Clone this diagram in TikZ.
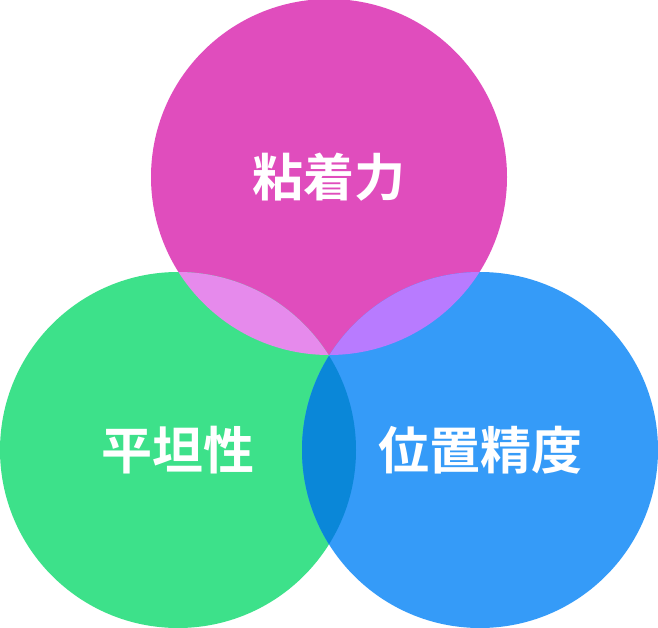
\documentclass[tikz,border=0pt]{standalone}
\usepackage{fontspec}
\newfontfamily\cjkfont{Noto Sans CJK JP Bold}
\usetikzlibrary{positioning}
\definecolor{clrtop}{HTML}{E04DBD}
\definecolor{clrleft}{HTML}{3DE18A}
\definecolor{clrright}{HTML}{359BF8}
\definecolor{clrtopleft}{HTML}{E68AEC}
\definecolor{clrtopright}{HTML}{B87BFF}
\definecolor{clrleftright}{HTML}{0A87D8}

\begin{document}
\begin{tikzpicture}[
    x=1pt, y=-1pt,
    disc/.style={circle, minimum size=356pt, inner sep=0pt},
    caption/.style={text=white, inner sep=0pt, font=\cjkfont\fontsize{51}{51}\selectfont},
]
\useasboundingbox (0,0) rectangle (658,628);
\node[disc, fill=clrtop] (n_top) at (329,177) {};
\node[disc, fill=clrleft] (n_left) at (178,450) {};
\node[disc, fill=clrright] (n_right) at (480,450) {};
% overlaps
\begin{scope}
  \clip (n_top.center) circle (178pt);
  \fill[clrtopleft] (n_left.center) circle (178pt);
  \fill[clrtopright] (n_right.center) circle (178pt);
\end{scope}
\begin{scope}
  \clip (n_left.center) circle (178pt);
  \fill[clrleftright] (n_right.center) circle (178pt);
\end{scope}
\node[caption] (n_top_label) at (n_top) {粘着力};
\node[caption] (n_left_label) at (n_left) {平坦性};
\node[caption] (n_right_label) at (n_right) {位置精度};
\end{tikzpicture}
\end{document}
